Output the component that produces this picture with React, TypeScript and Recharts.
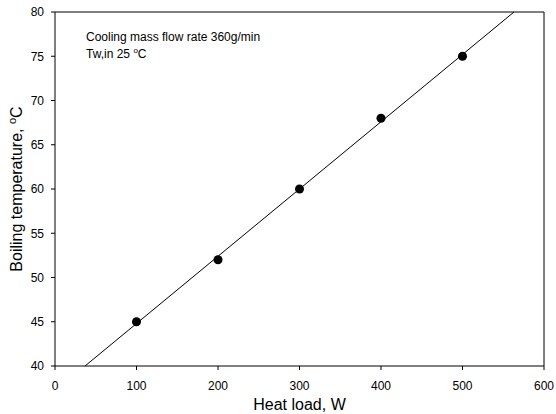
import React from "react";
import { ComposedChart, Scatter, XAxis, YAxis, ReferenceLine, Customized } from "recharts";

const heatLoad = [100, 200, 300, 400, 500];
const boilingTemp = [45, 52, 60, 68, 75];
const xTicks = [0, 100, 200, 300, 400, 500, 600];
const yTicks = [40, 45, 50, 55, 60, 65, 70, 75, 80];
const noteLine1 = "Cooling mass flow rate 360g/min";
const noteLine2a = "Tw,in 25 ";

const points = heatLoad.map((x, i) => ({ x, y: boilingTemp[i] }));

// least-squares fit of the data
const n = heatLoad.length;
const mx = heatLoad.reduce((a, b) => a + b, 0) / n;
const my = boilingTemp.reduce((a, b) => a + b, 0) / n;
let sxy = 0, sxx = 0;
for (let i = 0; i < n; i++) {
  sxy += (heatLoad[i] - mx) * (boilingTemp[i] - my);
  sxx += (heatLoad[i] - mx) ** 2;
}
const slope = sxy / sxx;
const intercept = my - slope * mx;
const fitStart = { x: (40 - intercept) / slope, y: 40 };
const fitEnd = { x: (80 - intercept) / slope, y: 80 };

const font = "'Liberation Sans', Arial, sans-serif";

const YLabel = (props: any) => {
  const vb = props.viewBox;
  const cx = 22;
  const cy = vb.y + vb.height / 2;
  return (
    <text
      x={cx}
      y={cy}
      transform={`rotate(-90, ${cx}, ${cy})`}
      textAnchor="middle"
      fontSize={16}
      fontFamily={font}
      fill="#000"
    >
      Boiling temperature, <tspan fontSize={11} dy={-6}>o</tspan>
      <tspan dy={6}>C</tspan>
    </text>
  );
};

const Notes = (props: any) => {
  const off = props.offset || { left: 55, top: 12 };
  const x = off.left + 31;
  const y = off.top + 29;
  return (
    <g fontFamily={font} fontSize={12} fill="#000">
      <text x={x} y={y}>{noteLine1}</text>
      <text x={x} y={y + 17}>
        {noteLine2a}
        <tspan fontSize={8} dy={-5}>o</tspan>
        <tspan dy={5}>C</tspan>
      </text>
    </g>
  );
};

export default function App() {
  return (
    <div style={{ position: "absolute", left: 0, top: 0, background: "#fff" }}>
      <ComposedChart
        width={556}
        height={414}
        margin={{ top: 12, right: 12, left: 10, bottom: 0 }}
      >
        <XAxis
          xAxisId="main"
          type="number"
          dataKey="x"
          domain={[0, 600]}
          ticks={xTicks}
          allowDataOverflow
          height={48}
          tickSize={4}
          tickMargin={11}
          tick={{ fontSize: 12, fontFamily: font, fill: "#000" }}
          stroke="#000"
          label={{
            value: "Heat load, W",
            position: "insideBottom",
            offset: 4,
            fontSize: 16,
            fontFamily: font,
            fill: "#000",
          }}
        />
        <YAxis
          yAxisId="main"
          type="number"
          dataKey="y"
          domain={[40, 80]}
          ticks={yTicks}
          allowDataOverflow
          width={45}
          tickSize={4}
          tickMargin={7}
          tick={{ fontSize: 12, fontFamily: font, fill: "#000" }}
          stroke="#000"
          label={<YLabel />}
        />
        <ReferenceLine xAxisId="main" yAxisId="main" y={80} stroke="#000" ifOverflow="visible" />
        <ReferenceLine xAxisId="main" yAxisId="main" x={600} stroke="#000" ifOverflow="visible" />
        <ReferenceLine
          xAxisId="main"
          yAxisId="main"
          segment={[fitStart, fitEnd]}
          stroke="#000"
          strokeWidth={1}
          ifOverflow="visible"
        />
        <Scatter
          xAxisId="main"
          yAxisId="main"
          data={points}
          fill="#000"
          shape="circle"
          isAnimationActive={false}
        />
        <Customized component={Notes} />
      </ComposedChart>
    </div>
  );
}
